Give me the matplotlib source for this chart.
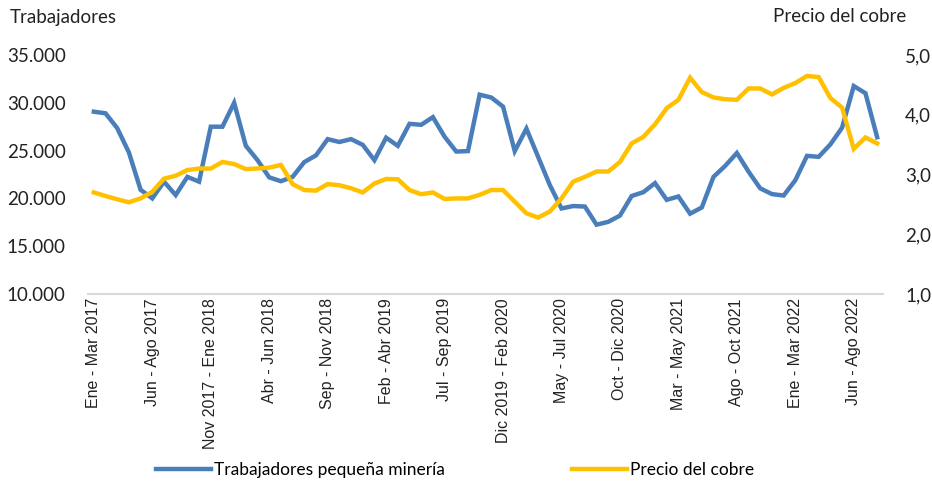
import numpy as np
import matplotlib; matplotlib.use("Agg")
import matplotlib.pyplot as plt
from matplotlib.ticker import FuncFormatter
from matplotlib.lines import Line2D

# ---------------------------------------------------------------------------
# datos (trimestres móviles, Ene-Mar 2017 .. Ago-Oct 2022)
# ---------------------------------------------------------------------------
MESES = ["Ene", "Feb", "Mar", "Abr", "May", "Jun",
         "Jul", "Ago", "Sep", "Oct", "Nov", "Dic"]

trabajadores = [
    29070, 28900, 27350, 24800, 20900, 20000, 21750, 20350, 22250, 21750,
    27500, 27500, 30000, 25500, 24000, 22200, 21800, 22250, 23800, 24500,
    26200, 25900, 26200, 25600, 24000, 26350, 25500, 27800, 27700, 28500,
    26450, 24900, 24950, 30850, 30550, 29600, 24950, 27300, 24350, 21400,
    18950, 19200, 19150, 17250, 17550, 18200, 20250, 20650, 21600, 19850,
    20200, 18400, 19050, 22250, 23400, 24750, 22800, 21050, 20450, 20300,
    21900, 24450, 24350, 25650, 27400, 31750, 31000, 26400,
]

precio_cobre = [
    2.70, 2.64, 2.585, 2.535, 2.60, 2.71, 2.93, 2.98, 3.075, 3.10,
    3.10, 3.21, 3.175, 3.09, 3.10, 3.115, 3.16, 2.84, 2.74, 2.73,
    2.84, 2.82, 2.77, 2.70, 2.85, 2.925, 2.92, 2.74, 2.67, 2.70,
    2.59, 2.60, 2.60, 2.66, 2.74, 2.74, 2.545, 2.35, 2.28, 2.38,
    2.60, 2.88, 2.96, 3.05, 3.05, 3.21, 3.52, 3.63, 3.84, 4.11,
    4.25, 4.62, 4.38, 4.29, 4.26, 4.25, 4.44, 4.44, 4.34, 4.45,
    4.53, 4.65, 4.63, 4.28, 4.12, 3.43, 3.62, 3.52,
]

def trimestre(i):
    # i = 0 -> Ene - Mar 2017
    m0, y0 = i % 12, 2017 + i // 12
    m1, y1 = (i + 2) % 12, 2017 + (i + 2) // 12
    if y0 == y1:
        return f"{MESES[m0]} - {MESES[m1]} {y1}"
    return f"{MESES[m0]} {y0} - {MESES[m1]} {y1}"

etiquetas = [trimestre(i) for i in range(len(trabajadores))]

AZUL = "#4a7ebb"
AMARILLO = "#ffc000"
FONT = ["Lato", "DejaVu Sans"]
FONT_X = ["Liberation Sans", "DejaVu Sans"]

# ---------------------------------------------------------------------------
# figura
# ---------------------------------------------------------------------------
W, H = 932, 482
fig = plt.figure(figsize=(W / 100, H / 100), dpi=100)
ax = fig.add_axes([88 / W, 1 - 294 / H, (883 - 88) / W, (294 - 55) / H])
ax2 = ax.twinx()

x = np.arange(len(trabajadores))
ax.plot(x, trabajadores, color=AZUL, lw=3.2, solid_joinstyle="miter", zorder=3)
ax2.plot(x, precio_cobre, color=AMARILLO, lw=3.2, solid_joinstyle="miter", zorder=3)

ax.set_xlim(-0.5, len(x) - 0.5)
ax.set_ylim(10000, 35000)
ax2.set_ylim(1, 5)
ax.set_yticks(np.arange(10000, 35001, 5000))
ax2.set_yticks(np.arange(1, 5.01, 1))
ax.yaxis.set_major_formatter(FuncFormatter(lambda v, p: f"{v:,.0f}".replace(",", ".")))
ax2.yaxis.set_major_formatter(FuncFormatter(lambda v, p: f"{v:.1f}".replace(".", ",")))

ax.set_xticks(x[::5])
ax.set_xticklabels(etiquetas[::5], rotation=90, va="top", ha="center",
                   fontsize=11.5, family=FONT_X, color="#222222")

for a in (ax, ax2):
    for s in a.spines.values():
        s.set_visible(False)
    a.tick_params(length=0)
ax.spines["bottom"].set_visible(True)
ax.spines["bottom"].set_color("#d9d9d9")
ax.spines["bottom"].set_linewidth(1.5)
ax.tick_params(axis="x", pad=3)
ax.tick_params(axis="y", pad=16, labelsize=13.5)
ax2.tick_params(axis="y", pad=16, labelsize=13.5)
for lb in ax.get_yticklabels() + ax2.get_yticklabels():
    lb.set_family(FONT)
    lb.set_color("#222222")

fig.text(10 / W, 1 - 17 / H, "Trabajadores", ha="left", va="center",
         fontsize=13.5, family=FONT, color="#222222")
fig.text(906 / W, 1 - 17 / H, "Precio del cobre", ha="right", va="center",
         fontsize=13.5, family=FONT, color="#222222")

handles = [Line2D([], [], color=AZUL, lw=3.2),
           Line2D([], [], color=AMARILLO, lw=3.2)]
fig.legend(handles, ["Trabajadores pequeña minería", "Precio del cobre"],
           loc="center", bbox_to_anchor=(0.488, 1 - 470 / H), ncol=2,
           frameon=False, handlelength=3.2, handletextpad=0.15,
           columnspacing=7.3, prop={"family": FONT, "size": 12.5})

plt.savefig("out.png", dpi=100)
print("[img] out.png")
